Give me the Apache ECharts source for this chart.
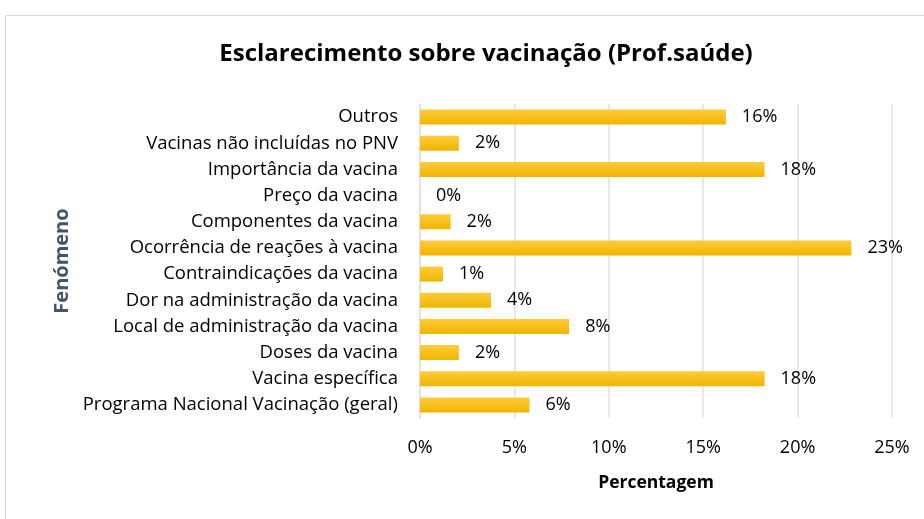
<!DOCTYPE html>
<html>
<head>
<meta charset="utf-8">
<script src="https://cdn.jsdelivr.net/npm/echarts@6/dist/echarts.min.js"></script>
<style>
  html, body { margin: 0; padding: 0; background: #fff; }
  #main { width: 924px; height: 519px; }
</style>
</head>
<body>
<div id="main"></div>
<script>
// categorias (de baixo para cima, como no eixo)
const categories = [
  "Programa Nacional Vacinação (geral)",
  "Vacina específica",
  "Doses da vacina",
  "Local de administração da vacina",
  "Dor na administração da vacina",
  "Contraindicações da vacina",
  "Ocorrência de reações à vacina",
  "Componentes da vacina",
  "Preço da vacina",
  "Importância da vacina",
  "Vacinas não incluídas no PNV",
  "Outros"
];
// percentagens
const values = [5.8, 18.25, 2.06, 7.9, 3.76, 1.22, 22.85, 1.62, 0, 18.25, 2.06, 16.2];
const xTicks = [0, 5, 10, 15, 20, 25];

const font = "'Open Sans', 'Noto Sans', sans-serif";

const myChart = echarts.init(document.getElementById("main"));
myChart.setOption({
  animation: false,
  title: {
    text: "Esclarecimento sobre vacinação (Prof.saúde)",
    left: 481,
    textAlign: "center",
    top: 37,
    textStyle: { fontFamily: font, fontSize: 24, fontWeight: "bold", color: "#000" }
  },
  graphic: [{
    type: "rect",
    shape: { x: 5.5, y: 15.5, width: 940, height: 520 },
    style: { fill: "none", stroke: "#d9d9d9", lineWidth: 1 },
    silent: true
  }],
  grid: { left: 420, right: 32, top: 104, height: 314, containLabel: false },
  xAxis: {
    type: "value",
    min: 0,
    max: 25,
    interval: 5,
    name: "Percentagem",
    nameLocation: "middle",
    nameGap: 56,
    nameTextStyle: { fontFamily: font, fontSize: 17.5, fontWeight: "bold", color: "#000" },
    axisLine: { show: false },
    axisTick: { show: false },
    axisLabel: {
      margin: 21,
      fontFamily: font, fontSize: 18, color: "#000",
      formatter: v => xTicks.includes(v) ? v + "%" : ""
    },
    splitLine: { show: true, lineStyle: { color: "#dde1e8", width: 1.5 } }
  },
  yAxis: {
    type: "category",
    data: categories,
    name: "Fenómeno",
    nameLocation: "middle",
    nameGap: 348,
    nameRotate: 90,
    nameTextStyle: { fontFamily: font, fontSize: 20, fontWeight: "bold", color: "#44546a" },
    axisLine: { show: true, lineStyle: { color: "#dde1e8", width: 1.5 } },
    axisTick: { show: false },
    axisLabel: { margin: 22, fontFamily: font, fontSize: 18.5, color: "#000" }
  },
  series: [{
    type: "bar",
    data: values,
    barWidth: 15,
    itemStyle: {
      color: new echarts.graphic.LinearGradient(0, 0, 0, 1, [
        { offset: 0, color: "#ffcb3a" },
        { offset: 1, color: "#efb500" }
      ])
    },
    label: {
      show: true,
      position: "right",
      distance: 16,
      fontFamily: font, fontSize: 18, color: "#000",
      formatter: p => Math.round(p.value) + "%"
    }
  }]
});
window.addEventListener("resize", () => {
  myChart.resize();
});
</script>
</body>
</html>
